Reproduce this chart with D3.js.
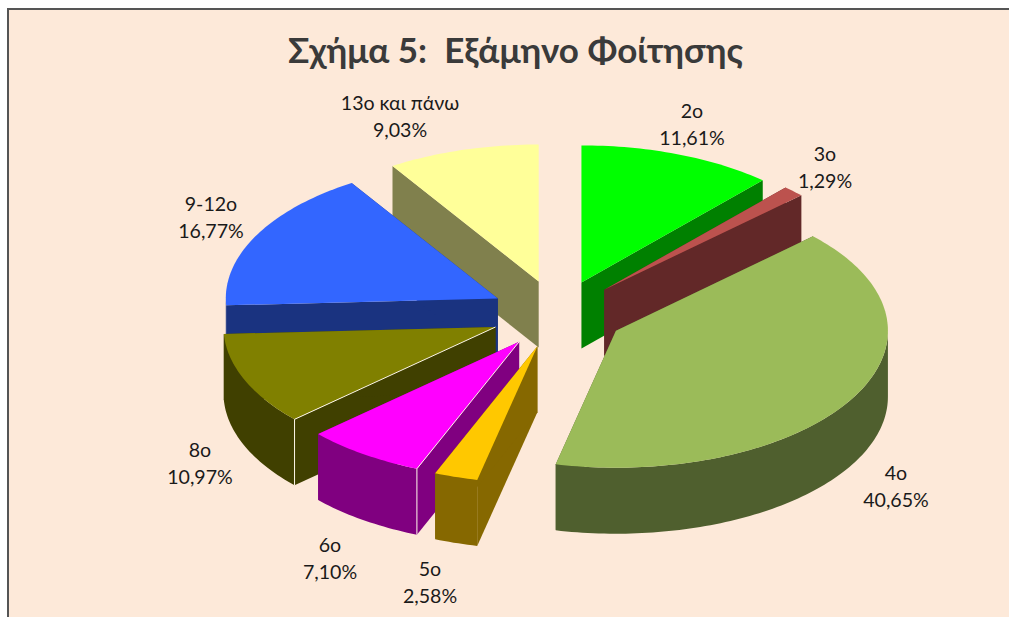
<!DOCTYPE html>
<html>
<head>
<meta charset="utf-8">
<script src="https://cdn.jsdelivr.net/npm/d3@7"></script>
<style>
  html, body { margin: 0; padding: 0; background: #fff; }
  svg { display: block; }
  .slice-label { font-family: Lato, "Open Sans", sans-serif; font-size: 19.6px; fill: #1a1a1a; text-anchor: middle; }
  .title { font-family: Lato, "Open Sans", sans-serif; font-size: 35px; font-weight: 700; fill: #3a3a3a; text-anchor: middle; white-space: pre; }
</style>
</head>
<body>
<svg id="chart"></svg>
<script>
// ── DATA ──────────────────────────────────────────────────────────────────
const categories = ["2ο", "3ο", "4ο", "5ο", "6ο", "8ο", "9-12ο", "13ο και πάνω"];
const shares = [11.61, 1.29, 40.65, 2.58, 7.1, 10.97, 16.77, 9.03];
const topColors = ["#00ff00", "#bc524e", "#9bbb59", "#ffc800", "#ff00ff", "#808000", "#3366ff", "#ffff99"];
const sideColors = ["#008000", "#622828", "#4f5f2e", "#866800", "#800080", "#404000", "#1a3380", "#80804d"];

// label anchors, same order as categories
const labelX = [692, 825, 896, 430, 330, 200, 211, 400];
const labelY = [118, 161, 480, 576, 552, 457, 211, 110];

// ── SET UP ────────────────────────────────────────────────────────────────
const width = 1009, height = 617;
const cx = 557.5, cy = 314, rx = 272, ry = 137, depth = 66, explode = 0.247;

const svg = d3.select("#chart").attr("width", width).attr("height", height);

// frame: only top and left edges fall inside the picture
svg.append("rect").attr("width", width).attr("height", height).attr("fill", "#fff");
svg.append("rect")
  .attr("x", 8).attr("y", 9)
  .attr("width", width).attr("height", height)
  .attr("fill", "#fde9d9")
  .attr("stroke", "#555")
  .attr("stroke-width", 2);

svg.append("text")
  .attr("class", "title")
  .attr("x", 515.5)
  .attr("y", 63)
  .text("Σχήμα 5:  Εξάμηνο Φοίτησης");

// unit pie coordinates -> screen, tilted by the different x/y ranges
const xScale = d3.scaleLinear().domain([-1, 1]).range([cx - rx, cx + rx]);
const yScale = d3.scaleLinear().domain([-1, 1]).range([cy - ry, cy + ry]);

const pie = d3.pie().sort(null).value((d) => d);
const slices = pie(shares).map((s, i) => ({ ...s, i }));

const poly = d3.line();
const FRONT_A = Math.PI / 2, FRONT_B = Math.PI * 1.5;

function geom(s) {
  const mid = (s.startAngle + s.endAngle) / 2;
  const ox = explode * Math.sin(mid), oy = -explode * Math.cos(mid);
  const pt = (a, r = 1) => [
    xScale(ox + r * Math.sin(a)),
    yScale(oy - r * Math.cos(a)),
  ];
  return { apex: pt(0, 0), pt };
}

const down = (p) => [p[0], p[1] + depth];
const rim = (g, a0, a1) => {
  const n = Math.max(2, Math.ceil((a1 - a0) / 0.02));
  return d3.range(n + 1).map((k) => g.pt(a0 + ((a1 - a0) * k) / n));
};

// paint back to front, so nearer slices cover the walls behind them
const drawOrder = [7, 0, 1, 2, 6, 5, 4, 3];
const group = svg.append("g");

drawOrder.forEach((idx) => {
  const s = slices[idx];
  const g = geom(s);
  const a = s.startAngle, b = s.endAngle;
  const sl = group.append("g");
  const side = sideColors[idx];

  // two cut faces
  [a, b].forEach((ang) => {
    const e = g.pt(ang);
    sl.append("path")
      .attr("d", poly([g.apex, e, down(e), down(g.apex)]) + "Z")
      .attr("fill", side);
  });

  // outer wall, only the part facing the viewer
  const f0 = Math.max(a, FRONT_A), f1 = Math.min(b, FRONT_B);
  if (f1 > f0) {
    const r = rim(g, f0, f1);
    sl.append("path")
      .attr("d", poly(r.concat(r.map(down).reverse())) + "Z")
      .attr("fill", side);
  }

  // top
  sl.append("path")
    .attr("d", poly([g.apex, ...rim(g, a, b)]) + "Z")
    .attr("fill", topColors[idx]);

  // thin light edges on the 6o and 8o cut corners
  if (idx === 4 || idx === 5) {
    const e = g.pt(a);
    sl.append("path")
      .attr("d", poly([g.apex, e, down(e)]))
      .attr("fill", "none")
      .attr("stroke", "#fdf6e8")
      .attr("stroke-width", 1);
  }
});

// labels: name over percentage
const fmt = (v) => v.toFixed(2).replace(".", ",") + "%";
const labels = svg.append("g").selectAll("text").data(slices).join("text").attr("class", "slice-label");
labels.append("tspan")
  .attr("x", (d) => labelX[d.i])
  .attr("y", (d) => labelY[d.i])
  .text((d) => categories[d.i]);
labels.append("tspan")
  .attr("x", (d) => labelX[d.i])
  .attr("y", (d) => labelY[d.i] + 27)
  .text((d) => fmt(d.data));
</script>
</body>
</html>
